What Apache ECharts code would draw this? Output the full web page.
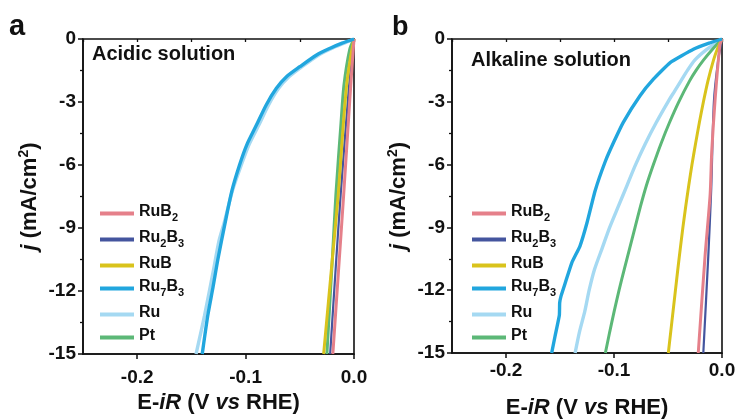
<!DOCTYPE html>
<html>
<head>
<meta charset="utf-8">
<title>HER polarization curves</title>
<script src="https://cdn.jsdelivr.net/npm/echarts@6/dist/echarts.min.js"></script>
<style>
  html, body { margin: 0; padding: 0; background: #fff; }
  #chart { width: 738px; height: 420px; }
</style>
</head>
<body>
<div id="chart"></div>
<script>
// Sample names (legend order) and line colours
const samples = ['RuB2', 'Ru2B3', 'RuB', 'Ru7B3', 'Ru', 'Pt'];
const sampleColors = {
  RuB2: '#e5808a', Ru2B3: '#44559e', RuB: '#d9c31c',
  Ru7B3: '#21a6de', Ru: '#a5d9f2', Pt: '#5cb877'
};
// Legend labels with subscripts
const legendRich = {
  RuB2: '{m|RuB}{s|2}', Ru2B3: '{m|Ru}{s|2}{m|B}{s|3}', RuB: '{m|RuB}',
  Ru7B3: '{m|Ru}{s|7}{m|B}{s|3}', Ru: '{m|Ru}', Pt: '{m|Pt}'
};
const panelTitles = ['Acidic solution', 'Alkaline solution'];
const panelLetters = ['a', 'b'];
const xTickLabels = [-0.2, -0.1, 0.0];
const yTickLabels = [0, -3, -6, -9, -12, -15];

// LSV curves, [E - iR (V vs RHE), j (mA/cm2)] - acidic
const acidicRuB2 = [[0, 0], [-0.003, -2.2], [-0.0095, -7.4], [-0.0145, -11.2], [-0.0195, -15]];
const acidicRu2B3 = [[0, 0], [-0.002, -1.0], [-0.005, -2.5], [-0.0123, -7.4], [-0.017, -11], [-0.022, -15]];
const acidicRuB = [[0, 0], [-0.003, -0.8], [-0.0068, -2.2], [-0.0105, -4.5], [-0.0145, -7.4], [-0.020, -10.5], [-0.028, -15]];
const acidicRu7B3 = [[0, 0], [-0.011, -0.2], [-0.022, -0.44], [-0.0345, -0.76], [-0.05, -1.32], [-0.0623, -1.8],
  [-0.0716, -2.35], [-0.081, -3.14], [-0.090, -4.1], [-0.099, -5.05], [-0.1056, -6.0], [-0.1125, -7.2],
  [-0.119, -8.78], [-0.1256, -10.5], [-0.130, -11.8], [-0.135, -13.2], [-0.140, -15]];
const acidicRu = [[0, 0], [-0.009, -0.2], [-0.020, -0.44], [-0.0325, -0.76], [-0.048, -1.32], [-0.060, -1.8],
  [-0.0695, -2.35], [-0.0788, -3.14], [-0.0878, -4.1], [-0.097, -5.05], [-0.104, -6.0], [-0.112, -7.2],
  [-0.1195, -8.7], [-0.1245, -9.6], [-0.130, -11.1], [-0.138, -13.2], [-0.1457, -15]];
const acidicPt = [[0, 0], [-0.004, -0.5], [-0.0093, -2.2], [-0.012, -4.0], [-0.0167, -7.4], [-0.020, -10.5], [-0.025, -15]];

// LSV curves - alkaline
const alkalineRuB2 = [[0, 0], [-0.002, -0.29], [-0.0065, -2.98], [-0.0095, -5.37], [-0.011, -7.43], [-0.0157, -10.37], [-0.022, -15]];
const alkalineRu2B3 = [[0, 0], [-0.0035, -1.0], [-0.0075, -3.0], [-0.0100, -7.2], [-0.0127, -10.37], [-0.0173, -15]];
const alkalineRuB = [[0, 0], [-0.0045, -0.5], [-0.0078, -1], [-0.013, -2], [-0.0172, -3], [-0.021, -4], [-0.0245, -5],
  [-0.0278, -6], [-0.0308, -7], [-0.0336, -8], [-0.0362, -9], [-0.0386, -10], [-0.0409, -11], [-0.0431, -12],
  [-0.0453, -13], [-0.0475, -14], [-0.0497, -15]];
const alkalineRu7B3 = [[0, 0], [-0.012, -0.2], [-0.0265, -0.49], [-0.048, -1.13], [-0.0635, -1.92], [-0.0759, -2.71],
  [-0.0914, -3.98], [-0.100, -4.9], [-0.108, -5.84], [-0.1176, -7.27], [-0.125, -8.78],
  [-0.1315, -9.89], [-0.139, -10.68], [-0.145, -11.63], [-0.149, -12.27], [-0.1503, -12.6], [-0.1506, -13.2],
  [-0.1546, -14.2], [-0.1577, -15]];
const alkalineRu = [[0, 0], [-0.014, -0.5], [-0.025, -1], [-0.032, -1.5], [-0.038, -2], [-0.044, -2.5], [-0.050, -3],
  [-0.061, -4], [-0.071, -5], [-0.080, -6], [-0.088, -7], [-0.096, -8], [-0.104, -9], [-0.111, -10],
  [-0.118, -11], [-0.123, -12], [-0.127, -13], [-0.132, -14], [-0.136, -15]];
const alkalinePt = [[0, 0], [-0.009, -0.5], [-0.017, -1], [-0.024, -1.5], [-0.030, -2], [-0.040, -3], [-0.0487, -4],
  [-0.0565, -5], [-0.0635, -6], [-0.070, -7], [-0.0755, -8], [-0.0805, -9], [-0.0855, -10], [-0.0905, -11],
  [-0.0953, -12], [-0.0998, -13], [-0.104, -14], [-0.108, -15]];

const panelData = [
  { RuB2: acidicRuB2, Ru2B3: acidicRu2B3, RuB: acidicRuB, Ru7B3: acidicRu7B3, Ru: acidicRu, Pt: acidicPt },
  { RuB2: alkalineRuB2, Ru2B3: alkalineRu2B3, RuB: alkalineRuB, Ru7B3: alkalineRu7B3, Ru: alkalineRu, Pt: alkalinePt }
];

const FONT = 'Arial, "Liberation Sans", Helvetica, sans-serif';
const grids = [
  { left: 83, top: 39, width: 271, height: 315 },
  { left: 452, top: 39, width: 270, height: 314 }
];
const xNameGaps = [33, 44];
const xLabelMargins = [14, 8];
const legendLeft = [100, 472];
const letterStyle = [{ left: 9, top: 12, size: 29 }, { left: 392, top: 14, size: 27 }];

// drawing order: bottom to top
const drawOrder = ['Ru', 'Ru2B3', 'Pt', 'RuB', 'RuB2', 'Ru7B3'];
const lineWidths = { RuB2: 3, Ru2B3: 2.2, RuB: 3, Ru7B3: 3.4, Ru: 3.4, Pt: 3 };

const option = {
  backgroundColor: '#fff',
  animation: false,
  textStyle: { fontFamily: FONT },
  grid: grids.map(g => Object.assign({
    show: true, borderColor: '#111', borderWidth: 1.6, backgroundColor: 'transparent',
    containLabel: false, outerBoundsMode: 'none'
  }, g)),
  title: [],
  legend: [],
  xAxis: [],
  yAxis: [],
  series: []
};

[0, 1].forEach(p => {
  // x axis with labelled ticks at -0.2, -0.1, 0.0
  option.xAxis.push({
    type: 'value', gridIndex: p, min: -0.25, max: 0, interval: 0.05,
    name: '{n|E-}{i|iR}{n| (V }{i|vs}{n| RHE)}', nameLocation: 'middle', nameGap: xNameGaps[p],
    nameTextStyle: {
      rich: {
        n: { fontSize: 22, fontWeight: 'bold', fontFamily: FONT, color: '#111' },
        i: { fontSize: 22, fontWeight: 'bold', fontStyle: 'italic', fontFamily: FONT, color: '#111' }
      }
    },
    axisLine: { show: true, onZero: false, lineStyle: { color: '#111', width: 1.6 } },
    axisTick: { show: true, length: 5, lineStyle: { color: '#111', width: 1.5 },
      customValues: xTickLabels },
    minorTick: { show: false },
    splitLine: { show: false },
    axisLabel: {
      customValues: xTickLabels,
      margin: xLabelMargins[p], fontSize: 19, fontWeight: 'bold', color: '#111', fontFamily: FONT,
      formatter: v => (Math.abs(v) < 1e-9 ? '0.0' : v.toFixed(1))
    }
  });
  option.yAxis.push({
    type: 'value', gridIndex: p, min: -15, max: 0, interval: 3,
    name: '{j|j}{n| (mA/cm}{s|2}{n|)}', nameLocation: 'middle', nameGap: 40, nameRotate: 90,
    nameTextStyle: {
      rich: {
        j: { fontSize: 22, fontWeight: 'bold', fontStyle: 'italic', fontFamily: FONT, color: '#111', lineHeight: 26 },
        n: { fontSize: 22, fontWeight: 'bold', fontFamily: FONT, color: '#111', lineHeight: 26 },
        s: { fontSize: 14, fontWeight: 'bold', fontFamily: FONT, color: '#111', lineHeight: 12, verticalAlign: 'top' }
      }
    },
    axisLine: { show: true, onZero: false, lineStyle: { color: '#111', width: 1.6 } },
    axisTick: { show: true, length: 5, lineStyle: { color: '#111', width: 1.5 } },
    minorTick: { show: true, splitNumber: 2, length: 3, lineStyle: { color: '#111', width: 1.3 } },
    splitLine: { show: false },
    axisLabel: { margin: 7, fontSize: 19, fontWeight: 'bold', color: '#111', fontFamily: FONT }
  });

  option.title.push({
    text: panelLetters[p], left: letterStyle[p].left, top: letterStyle[p].top, padding: 0,
    textStyle: { fontSize: letterStyle[p].size, fontWeight: 'bold', color: '#111', fontFamily: FONT }
  });
  option.title.push({
    text: panelTitles[p], left: p === 0 ? 92 : 471, top: p === 0 ? 44 : 50, padding: 0,
    textStyle: { fontSize: 20, fontWeight: 'bold', color: '#111', fontFamily: FONT }
  });

  option.legend.push({
    orient: 'vertical', left: legendLeft[p], top: 204, padding: 0, itemGap: 7,
    itemWidth: 34, itemHeight: 4, icon: 'rect',
    data: samples.map(s => ({ name: s + '_' + p })),
    formatter: name => legendRich[name.split('_')[0]],
    textStyle: {
      color: '#111',
      rich: {
        m: { fontSize: 16, fontWeight: 'bold', fontFamily: FONT, color: '#111', lineHeight: 19, verticalAlign: 'top' },
        s: { fontSize: 11, fontWeight: 'bold', fontFamily: FONT, color: '#111', lineHeight: 8, verticalAlign: 'bottom' }
      }
    },
    selectedMode: false
  });

  drawOrder.forEach((s, k) => {
    option.series.push({
      name: s + '_' + p, type: 'line', xAxisIndex: p, yAxisIndex: p,
      data: panelData[p][s], showSymbol: false, symbol: 'none',
      smooth: (p === 1 && s === 'Ru7B3') ? 0.12 : 0.25,
      z: 2 + k,
      lineStyle: { color: sampleColors[s], width: lineWidths[s] },
      itemStyle: { color: sampleColors[s] },
      clip: true
    });
  });
});

// overlay axes carrying the minor ticks at -0.15 and -0.05
[0, 1].forEach(p => {
  option.xAxis.push({
    type: 'value', gridIndex: p, min: -0.25, max: 0, interval: 0.05, position: 'bottom',
    axisLine: { show: false }, axisLabel: { show: false }, splitLine: { show: false },
    axisTick: { show: true, length: 3, lineStyle: { color: '#111', width: 1.3 } }
  });
});

const chart = echarts.init(document.getElementById('chart'), null, { renderer: 'canvas' });
chart.setOption(option);
</script>
</body>
</html>
